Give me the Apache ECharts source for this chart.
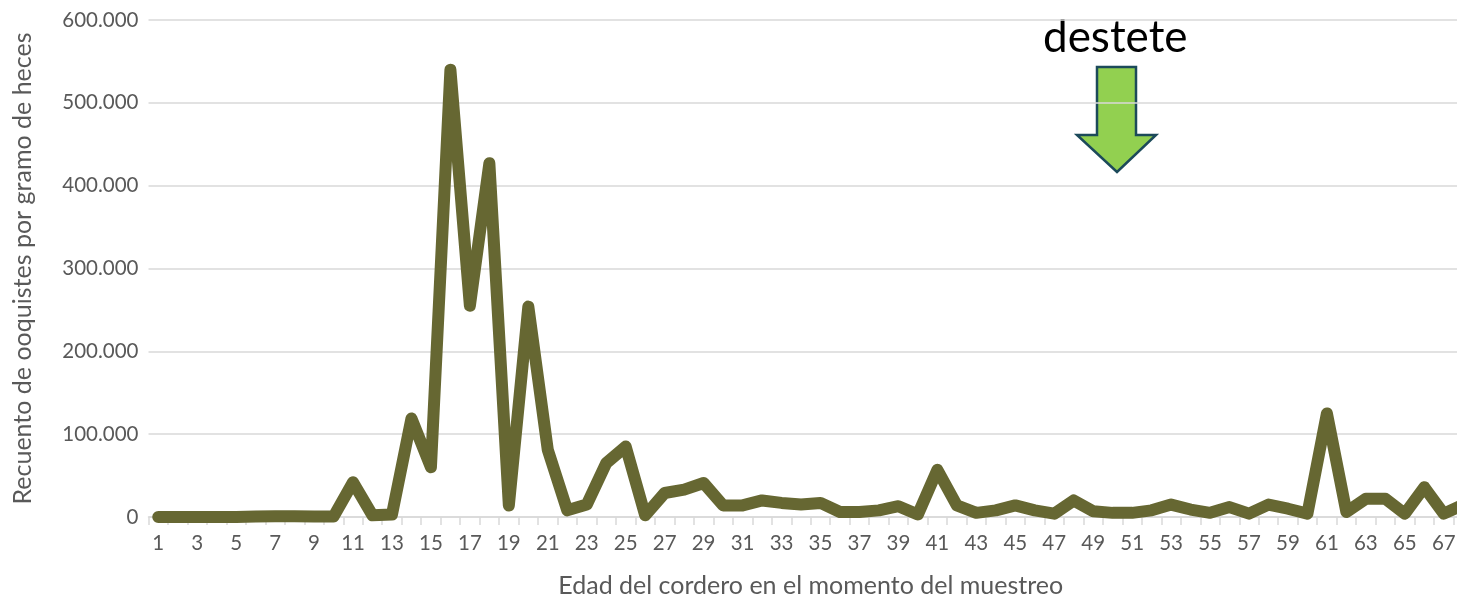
<!DOCTYPE html>
<html>
<head>
<meta charset="utf-8">
<script src="https://cdn.jsdelivr.net/npm/echarts@6/dist/echarts.min.js"></script>
<style>
  html, body { margin: 0; padding: 0; background: #fff; }
  #chart { width: 1457px; height: 598px; }
</style>
</head>
<body>
<div id="chart"></div>
<script>
// edad del cordero (categorías 1..68)
var edades = [];
for (var i = 1; i <= 68; i++) edades.push(String(i));

// ooquistes por gramo de heces
var ooquistes = [
  0, 0, 0, 0, 0, 500, 1000, 800, 500, 500,
  42000, 2000, 3000, 119000, 60000, 540000, 255000, 427000, 14000, 254000,
  81000, 8000, 15000, 65000, 85000, 2000, 29000, 33000, 41000, 14000,
  14000, 20000, 17000, 15000, 17000, 6000, 6000, 8000, 13000, 3000,
  57000, 14000, 5000, 8000, 14000, 8000, 4000, 20000, 7000, 5000,
  5000, 8000, 15000, 9000, 5000, 12000, 4000, 15000, 10000, 4000,
  125000, 6000, 22000, 22000, 4000, 36000, 4000, 15000
];

var yMax = 600000;
var yPaso = 100000;

function miles(v) {
  return String(v).replace(/\B(?=(\d{3})+(?!\d))/g, '.');
}

var option = {
  backgroundColor: '#fff',
  animation: false,
  grid: {
    left: 148.5,
    top: 20,
    bottom: 81,
    right: -16,
    containLabel: false,
    outerBoundsMode: 'none'
  },
  xAxis: {
    type: 'category',
    data: edades,
    boundaryGap: true,
    name: 'Edad del cordero en el momento del muestreo',
    nameLocation: 'middle',
    nameGap: 56,
    nameTextStyle: { color: '#595959', fontSize: 25, fontFamily: 'Lato' },
    axisLine: { lineStyle: { color: '#d9d9d9', width: 1.5 } },
    axisTick: { show: true, interval: 0, length: 8, lineStyle: { color: '#d9d9d9', width: 1.5 } },
    axisLabel: { interval: 1, color: '#595959', fontSize: 20.5, fontFamily: 'Lato', margin: 16 },
    splitLine: { show: false }
  },
  yAxis: {
    type: 'value',
    min: 0,
    max: yMax,
    interval: yPaso,
    name: 'Recuento de ooquistes por gramo de heces',
    nameLocation: 'middle',
    nameRotate: 90,
    nameGap: 113,
    nameTextStyle: { color: '#595959', fontSize: 25, fontFamily: 'Lato' },
    axisLine: { show: false },
    axisTick: { show: false },
    axisLabel: {
      color: '#595959', fontSize: 20.5, fontFamily: 'Lato', margin: 10,
      formatter: function (v) { return miles(v); }
    },
    splitLine: { lineStyle: { color: '#d9d9d9', width: 1.5 } }
  },
  graphic: [
    {
      type: 'text',
      left: 1043,
      top: 16,
      style: { text: 'destete', fill: '#000', fontSize: 44, fontFamily: 'Lato' }
    },
    {
      type: 'polygon',
      shape: {
        points: [[1097, 67], [1136, 67], [1136, 135], [1156, 135], [1117, 172], [1077, 135], [1097, 135]]
      },
      style: { fill: '#92d050', stroke: '#1c4a5a', lineWidth: 2.5 }
    }
  ],
  series: [
    {
      type: 'line',
      data: ooquistes,
      symbol: 'none',
      clip: false,
      lineStyle: { color: '#666732', width: 12, cap: 'round', join: 'round' }
    }
  ]
};

var chart = echarts.init(document.getElementById('chart'));
chart.setOption(option);
</script>
</body>
</html>
